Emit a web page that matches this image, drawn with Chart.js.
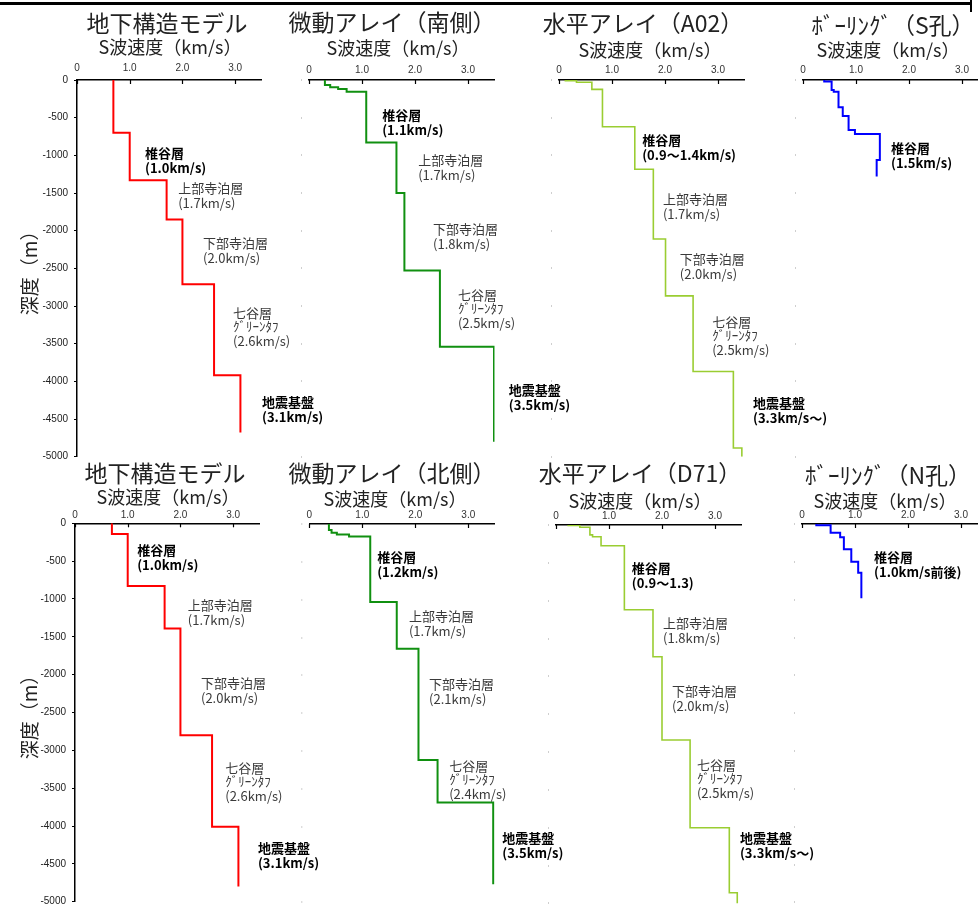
<!DOCTYPE html>
<html lang="ja">
<head>
<meta charset="utf-8">
<title>S波速度構造</title>
<script src="https://cdn.jsdelivr.net/npm/chart.js@4.4.1/dist/chart.umd.min.js"></script>
<style>
  html, body { margin: 0; padding: 0; background: #fff; overflow: hidden; }
  #wrap { position: relative; width: 978px; height: 904px; overflow: hidden; }
  #wrap canvas { position: absolute; }
  .frame { position: absolute; background: #000; }
</style>
</head>
<body>
<div id="wrap">
  <div class="frame" style="left:0;top:2px;width:972px;height:3px"></div>
  <div class="frame" style="left:970px;top:0;width:2px;height:12px"></div>
</div>
<script>
// ---- data ----
const xTicks = [0, 1, 2, 3];
const xTickLabels = ['0', '1.0', '2.0', '3.0'];

// velocity of each layer (km/s) and the depths of layer boundaries (m)
const southModelVel = [0.69, 1.0, 1.7, 2.0, 2.6, 3.1];
const southModelDepth = [0, -700, -1330, -1850, -2710, -3920, -4680];

const southArrayVel = [0.30, 0.40, 0.55, 0.71, 1.08, 1.65, 1.80, 2.47, 3.49];
const southArrayDepth = [0, -66, -97, -119, -155, -830, -1500, -2530, -3540, -4800];

const a02Vel = [0.12, 0.33, 0.62, 0.82, 1.43, 1.78, 2.01, 2.53, 3.29, 3.45];
const a02Depth = [0, -8, -30, -125, -620, -1185, -2110, -2865, -3870, -4885, -5000];

const sHoleVel = [0.40, 0.54, 0.58, 0.67, 0.75, 0.86, 0.98, 1.45, 1.39];
const sHoleDepth = [0, -20, -133, -155, -363, -477, -663, -716, -1061, -1282];

const northModelVel = [0.70, 1.0, 1.7, 2.0, 2.6, 3.1];
const northModelDepth = [0, -140, -830, -1390, -2800, -4010, -4800];

const northArrayVel = [0.37, 0.42, 0.52, 0.75, 1.15, 1.65, 2.06, 2.42, 3.47];
const northArrayDepth = [0, -80, -115, -140, -165, -1030, -1650, -3120, -3680, -4760];

const d71Vel = [0.23, 0.45, 0.64, 0.69, 0.85, 1.29, 1.83, 2.0, 2.53, 3.27, 3.42];
const d71Depth = [0, -5, -30, -130, -155, -275, -1120, -1740, -2840, -4000, -4860, -5000];

const nHoleVel = [0.27, 0.54, 0.72, 0.79, 0.93, 1.06, 1.12];
const nHoleDepth = [0, -15, -115, -176, -335, -498, -643, -982];

// layer notes
const southModelNotes = [['椎谷層', '(1.0km/s)'], ['上部寺泊層', '(1.7km/s)'], ['下部寺泊層', '(2.0km/s)'], ['七谷層', 'ｸﾞﾘｰﾝﾀﾌ', '(2.6km/s)'], ['地震基盤', '(3.1km/s)']];
const southArrayNotes = [['椎谷層', '(1.1km/s)'], ['上部寺泊層', '(1.7km/s)'], ['下部寺泊層', '(1.8km/s)'], ['七谷層', 'ｸﾞﾘｰﾝﾀﾌ', '(2.5km/s)'], ['地震基盤', '(3.5km/s)']];
const a02Notes = [['椎谷層', '(0.9～1.4km/s)'], ['上部寺泊層', '(1.7km/s)'], ['下部寺泊層', '(2.0km/s)'], ['七谷層', 'ｸﾞﾘｰﾝﾀﾌ', '(2.5km/s)'], ['地震基盤', '(3.3km/s～)']];
const sHoleNotes = [['椎谷層', '(1.5km/s)']];
const northModelNotes = [['椎谷層', '(1.0km/s)'], ['上部寺泊層', '(1.7km/s)'], ['下部寺泊層', '(2.0km/s)'], ['七谷層', 'ｸﾞﾘｰﾝﾀﾌ', '(2.6km/s)'], ['地震基盤', '(3.1km/s)']];
const northArrayNotes = [['椎谷層', '(1.2km/s)'], ['上部寺泊層', '(1.7km/s)'], ['下部寺泊層', '(2.1km/s)'], ['七谷層', 'ｸﾞﾘｰﾝﾀﾌ', '(2.4km/s)'], ['地震基盤', '(3.5km/s)']];
const d71Notes = [['椎谷層', '(0.9～1.3)'], ['上部寺泊層', '(1.8km/s)'], ['下部寺泊層', '(2.0km/s)'], ['七谷層', 'ｸﾞﾘｰﾝﾀﾌ', '(2.5km/s)'], ['地震基盤', '(3.3km/s～)']];
const nHoleNotes = [['椎谷層', '(1.0km/s前後)']];

const boldLayers = ['椎谷層', '地震基盤'];
const JP = "'Noto Sans CJK JP', 'Noto Sans', sans-serif";
const X_AXIS_H = 20;

// ---- layout of the eight panels ----
const panels = [
  { title: '地下構造モデル', tx: 167, ty: 23, sx: 170, sy: 47, left: 0, top: 0, w: 330,
    area: { l: 77, t: 80, r: 261.5, b: 456.7 }, gap: 6, yLabels: true,
    vel: southModelVel, depth: southModelDepth, color: '#ff0000', lw: 2,
    notes: southModelNotes, at: [[1.29, -970], [1.92, -1430], [2.39, -2160], [2.96, -3100], [3.51, -4280]] },
  { title: '微動アレイ（南側）', tx: 392, ty: 22, sx: 398, sy: 48, left: 270, top: 0, w: 330,
    area: { l: 309, t: 80, r: 494.5, b: 456.7 }, gap: 4,
    vel: southArrayVel, depth: southArrayDepth, color: '#109010', lw: 2,
    notes: southArrayNotes, at: [[1.38, -464], [2.06, -1061], [2.34, -1976], [2.81, -2851], [3.77, -4111]] },
  { title: '水平アレイ（A02）', tx: 643, ty: 23, sx: 650, sy: 50, left: 520, top: 0, w: 330,
    area: { l: 559, t: 80, r: 744.5, b: 456.7 }, gap: 3.3,
    vel: a02Vel, depth: a02Depth, color: '#9acd32', lw: 1.6,
    notes: a02Notes, at: [[1.57, -796], [1.96, -1578], [2.28, -2374], [2.89, -3210], [3.66, -4284]] },
  { title: 'ﾎﾞｰﾘﾝｸﾞ（S孔）', tx: 893, ty: 25, sx: 888, sy: 50, left: 760, top: 0, w: 240,
    area: { l: 803, t: 80, r: 988.5, b: 456.7 }, gap: 3.3,
    vel: sHoleVel, depth: sHoleDepth, color: '#0000ff', lw: 2,
    notes: sHoleNotes, at: [[1.66, -902]] },
  { title: '地下構造モデル', tx: 165, ty: 473, sx: 168, sy: 497, left: 0, top: 450, w: 330,
    area: { l: 75, t: 523.3, r: 259.5, b: 901.7 }, gap: 2, yLabels: true,
    vel: northModelVel, depth: northModelDepth, color: '#ff0000', lw: 2,
    notes: northModelNotes, at: [[1.18, -352], [2.14, -1078], [2.39, -2107], [2.85, -3228], [3.47, -4297]] },
  { title: '微動アレイ（北側）', tx: 392, ty: 473, sx: 395, sy: 499, left: 270, top: 450, w: 330,
    area: { l: 309.3, t: 524, r: 494.8, b: 902.4 }, gap: 3,
    vel: northArrayVel, depth: northArrayDepth, color: '#109010', lw: 2,
    notes: northArrayNotes, at: [[1.28, -435], [1.88, -1214], [2.26, -2111], [2.64, -3193], [3.64, -4156]] },
  { title: '水平アレイ（D71）', tx: 640, ty: 473, sx: 640, sy: 501, left: 520, top: 450, w: 330,
    area: { l: 556, t: 525, r: 741.5, b: 903.4 }, gap: 2.3,
    vel: d71Vel, depth: d71Depth, color: '#9acd32', lw: 1.6,
    notes: d71Notes, at: [[1.43, -567], [2.02, -1293], [2.19, -2190], [2.66, -3166], [3.47, -4142]] },
  { title: 'ﾎﾞｰﾘﾝｸﾞ（N孔）', tx: 888, ty: 475, sx: 885, sy: 501, left: 760, top: 450, w: 240,
    area: { l: 802, t: 524, r: 987.5, b: 902.4 }, gap: 2.3,
    vel: nHoleVel, depth: nHoleDepth, color: '#0000ff', lw: 2,
    notes: nHoleNotes, at: [[1.36, -435]] },
];
const CANVAS_H = 470;

// corners of the step profile
function stepPoints(vel, depth) {
  const pts = [];
  vel.forEach((v, i) => {
    pts.push({ x: v, y: depth[i] });
    pts.push({ x: v, y: depth[i + 1] });
  });
  return pts;
}

const panelText = {
  id: 'panelText',
  afterDraw(chart, args, opts) {
    const { ctx, scales: { x, y } } = chart;
    const p = opts.panel;
    ctx.save();
    ctx.textAlign = 'center';
    ctx.textBaseline = 'middle';
    ctx.fillStyle = '#222';
    ctx.font = `23px ${JP}`;
    ctx.fillText(p.title, p.tx - p.left, p.ty - p.top);
    ctx.font = `18px ${JP}`;
    ctx.fillText('S波速度（km/s）', p.sx - p.left, p.sy - p.top);

    ctx.textAlign = 'left';
    p.notes.forEach((lines, i) => {
      const px = x.getPixelForValue(p.at[i][0]);
      let py = y.getPixelForValue(p.at[i][1]);
      const bold = boldLayers.includes(lines[0]);
      lines.forEach((txt, j) => {
        const small = txt === 'ｸﾞﾘｰﾝﾀﾌ';
        if (j > 0) py += small ? 13 : 15;
        ctx.fillStyle = bold ? '#000' : '#3a3a3a';
        ctx.font = `${bold ? 'bold ' : ''}13px ${JP}`;
        ctx.fillText(txt, px, py);
      });
    });
    ctx.restore();
  }
};

const axisMarks = {
  id: 'axisMarks',
  afterDraw(chart, args, opts) {
    const { ctx, chartArea: a, scales: { x, y } } = chart;
    ctx.save();
    ctx.strokeStyle = '#000';
    ctx.lineWidth = 1.2;
    x.ticks.forEach(t => {
      const px = Math.round(x.getPixelForValue(t.value)) + 0.5;
      ctx.beginPath();
      ctx.moveTo(px, a.top);
      ctx.lineTo(px, a.top + 4);
      ctx.stroke();
    });
    if (opts.faint) {
      ctx.strokeStyle = '#cfcfcf';
      ctx.lineWidth = 1;
      y.ticks.forEach(t => {
        const py = Math.round(y.getPixelForValue(t.value));
        ctx.beginPath();
        ctx.moveTo(a.left - 7.5, py - 1);
        ctx.lineTo(a.left - 7.5, py + 1);
        ctx.stroke();
      });
    }
    ctx.restore();
  }
};

const wrap = document.getElementById('wrap');
panels.forEach(p => {
  const cv = document.createElement('canvas');
  cv.width = p.w;
  cv.height = CANVAS_H;
  cv.style.left = p.left + 'px';
  cv.style.top = p.top + 'px';
  wrap.appendChild(cv);

  const showY = !!p.yLabels;
  new Chart(cv, {
    type: 'scatter',
    data: {
      datasets: [{
        data: stepPoints(p.vel, p.depth),
        showLine: true,
        borderColor: p.color,
        borderWidth: p.lw,
        pointRadius: 0,
        fill: false,
      }],
    },
    plugins: [panelText, axisMarks],
    options: {
      responsive: false,
      animation: false,
      devicePixelRatio: 1,
      events: [],
      layout: {
        padding: {
          left: 0,
          top: p.area.t - p.top - X_AXIS_H,
          right: p.left + p.w - p.area.r,
          bottom: p.top + CANVAS_H - p.area.b,
        },
      },
      plugins: {
        legend: { display: false },
        tooltip: { enabled: false },
        panelText: { panel: p },
        axisMarks: { faint: !showY },
      },
      scales: {
        x: {
          type: 'linear',
          position: 'top',
          min: 0,
          max: 3.5,
          afterFit: (s) => { s.height = X_AXIS_H; },
          border: { color: '#000', width: 1.5 },
          grid: { drawOnChartArea: false, drawTicks: false },
          ticks: {
            stepSize: 1,
            includeBounds: false,
            maxRotation: 0,
            padding: p.gap,
            color: '#333',
            font: { size: 10, family: "'Liberation Sans', Arial, sans-serif" },
            callback: (v) => xTickLabels[xTicks.indexOf(v)] ?? '',
          },
        },
        y: {
          type: 'linear',
          min: -5000,
          max: 0,
          afterFit: (s) => { s.width = p.area.l - p.left; },
          border: { display: showY, color: '#000', width: 1.5 },
          grid: { display: showY, drawOnChartArea: false, drawTicks: true, tickLength: 3, color: '#000' },
          ticks: {
            display: showY,
            stepSize: 500,
            padding: 6,
            color: '#222',
            font: { size: 10, family: "'Liberation Sans', Arial, sans-serif" },
            callback: (v) => String(v),
          },
          title: {
            display: showY,
            text: '深度（m）',
            color: '#222',
            font: { size: 19, family: JP },
            padding: { top: 18, bottom: 0 },
          },
        },
      },
    },
  });
});
</script>
</body>
</html>
